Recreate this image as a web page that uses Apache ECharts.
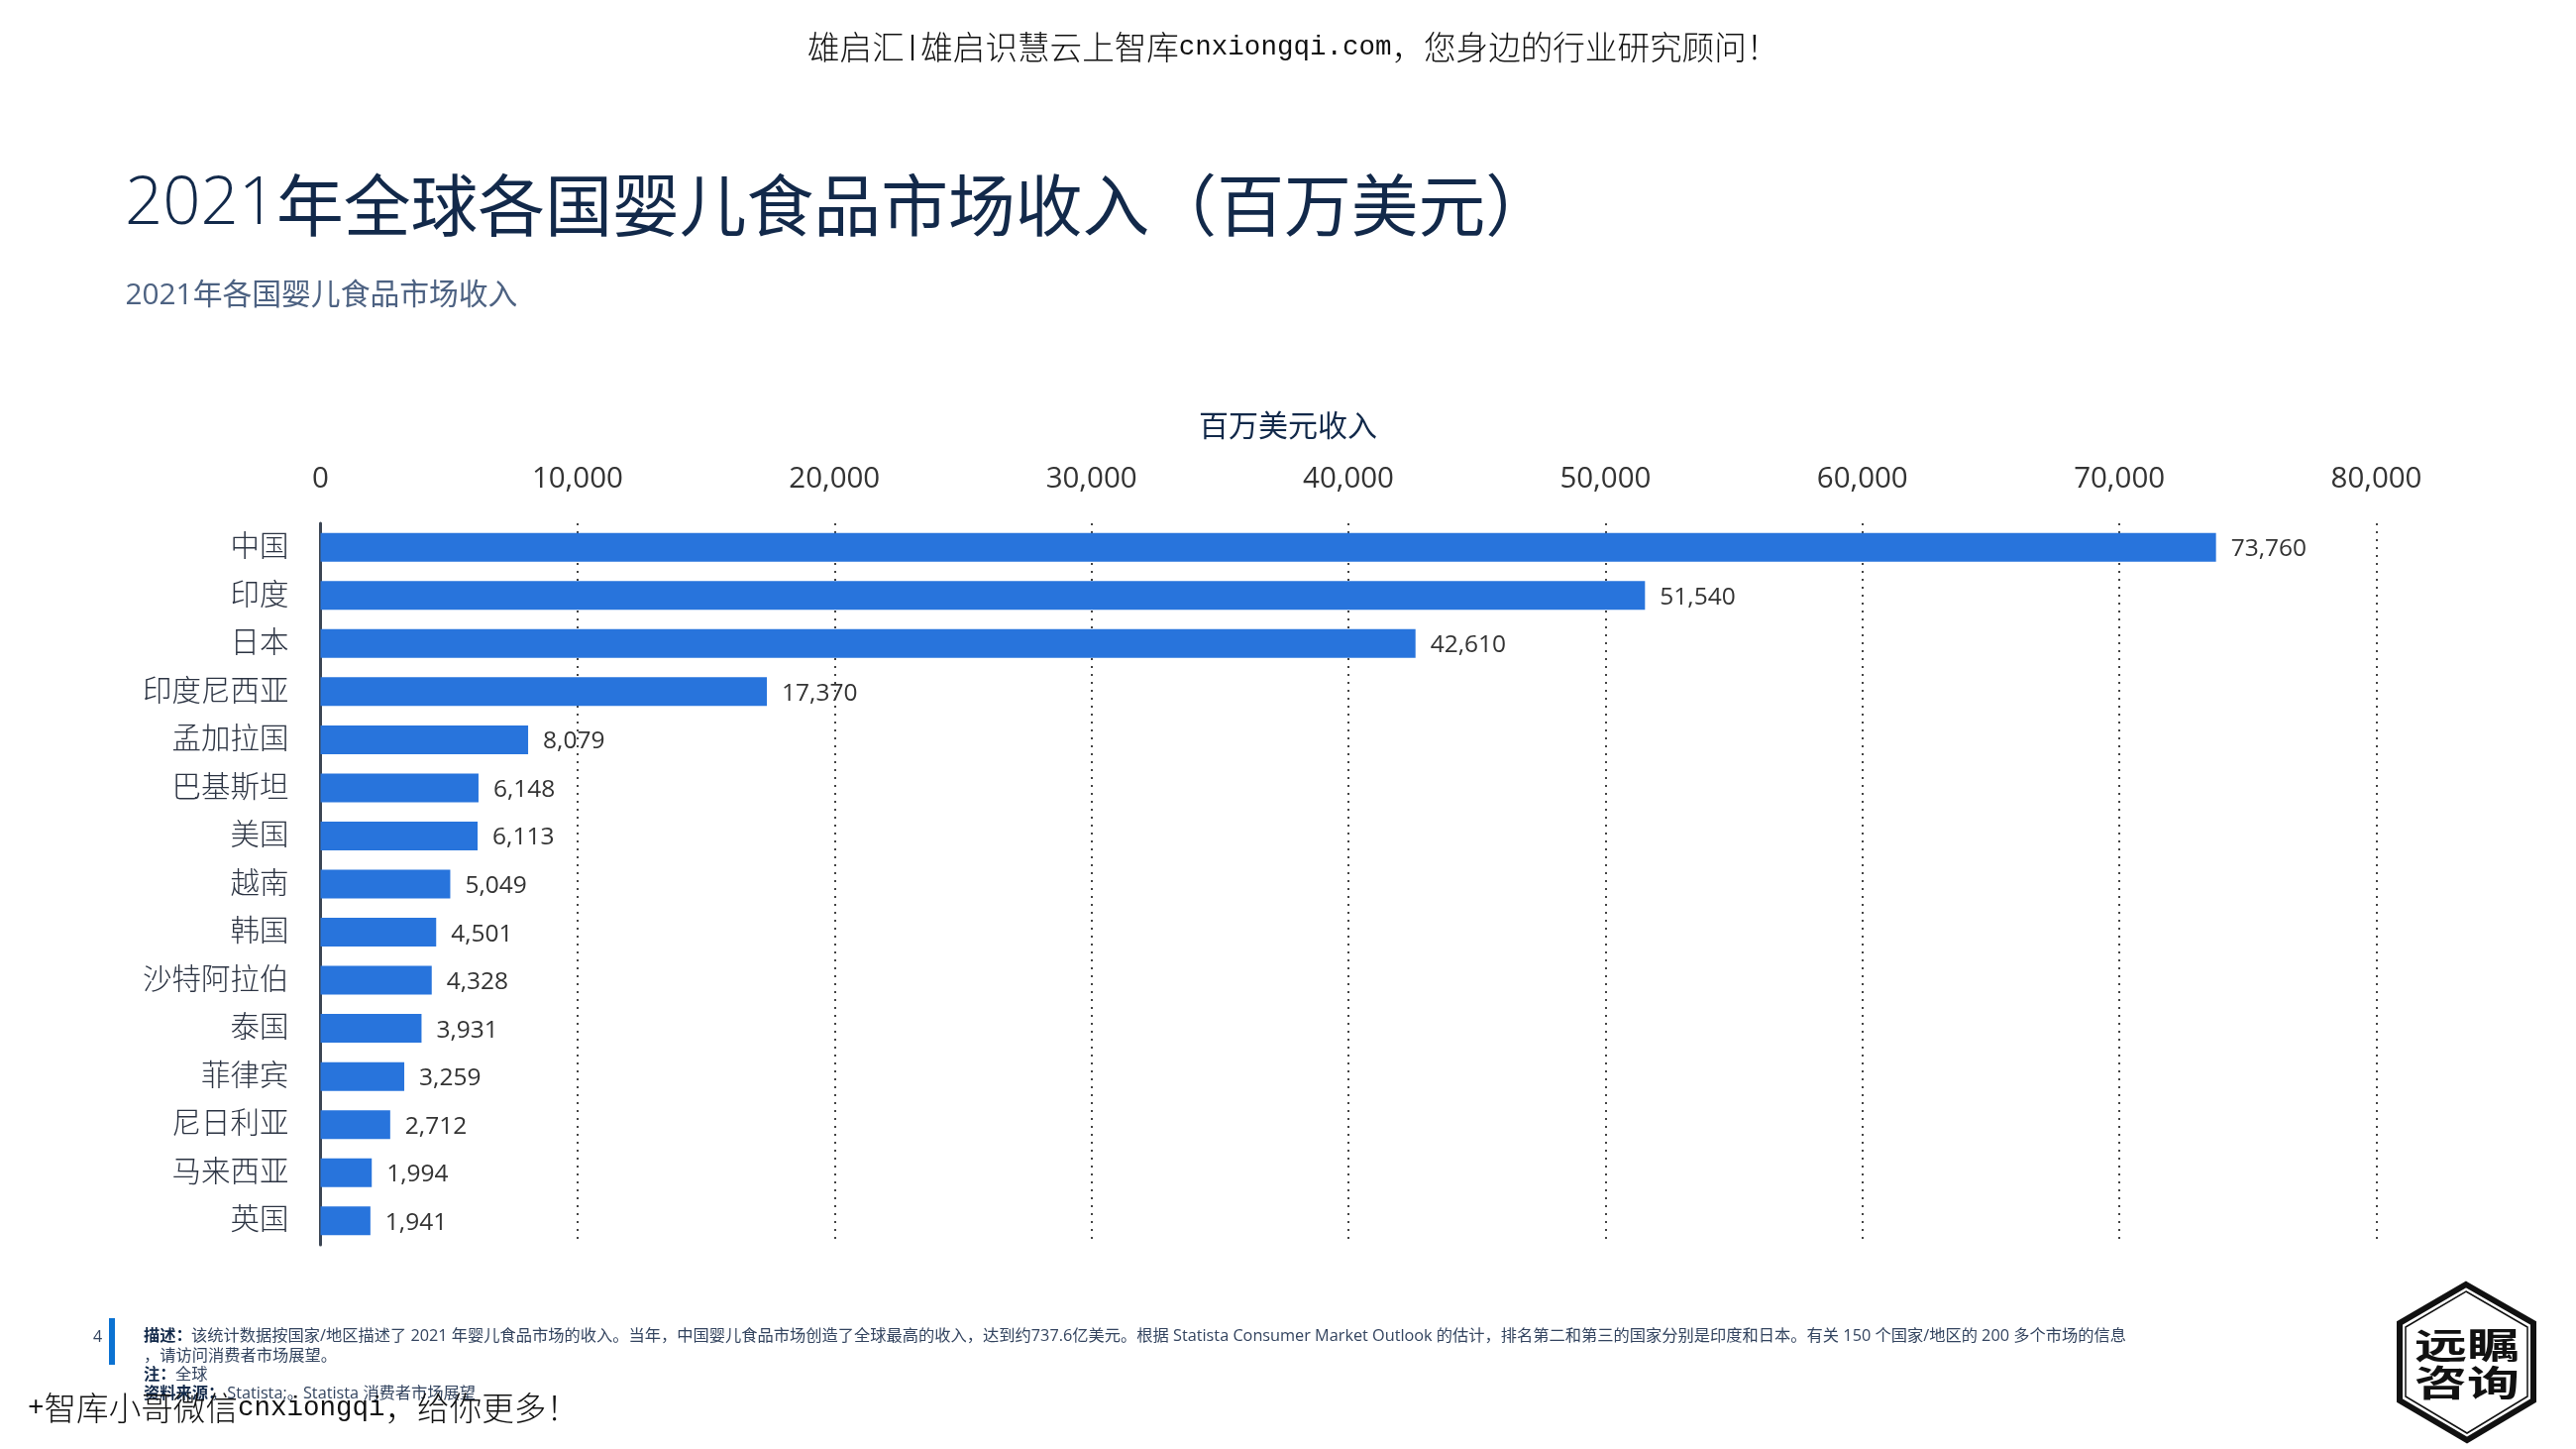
<!DOCTYPE html>
<html>
<head>
<meta charset="utf-8">
<script src="https://cdn.jsdelivr.net/npm/echarts@6/dist/echarts.min.js"></script>
<style>
html, body { margin: 0; padding: 0; background: #fff; }
#chart { width: 2600px; height: 1462px; }
</style>
</head>
<body>
<div id="chart"></div>
<script>
var countries = ['中国', '印度', '日本', '印度尼西亚', '孟加拉国', '巴基斯坦', '美国', '越南', '韩国', '沙特阿拉伯', '泰国', '菲律宾', '尼日利亚', '马来西亚', '英国'];
var revenue = [73760, 51540, 42610, 17370, 8079, 6148, 6113, 5049, 4501, 4328, 3931, 3259, 2712, 1994, 1941];
var axisName = '百万美元收入';
var axisMax = 80000;
var axisStep = 10000;

var sans = '"Open Sans", "Noto Sans CJK SC", sans-serif';
var cjk = '"Noto Sans CJK SC", sans-serif';
var navy = '#12294a';

// 水印：汉字与拉丁字符宽度 2:1
var markRich = {
    c: { fontFamily: cjk, fontWeight: 300, fontSize: 32.6, fill: '#111', color: '#111' },
    l: { fontFamily: '"Liberation Mono", monospace', fontSize: 27.5, fill: '#111', color: '#111' }
};

var chart = echarts.init(document.getElementById('chart'), null, { renderer: 'canvas' });

var option = {
    backgroundColor: '#fff',
    animation: false,
    title: [
        {
            text: '{a|2021}{b|年全球各国婴儿食品市场收入（百万美元）}',
            left: 121,
            top: 157,
            textStyle: {
                rich: {
                    a: { fontFamily: sans, fontWeight: 300, fontSize: 67, color: navy, lineHeight: 90 },
                    b: { fontFamily: cjk, fontWeight: 400, fontSize: 67.8, color: navy, lineHeight: 90 }
                }
            }
        },
        {
            text: '2021年各国婴儿食品市场收入',
            left: 121.5,
            top: 279,
            textStyle: { fontFamily: sans, fontWeight: 400, fontSize: 29.8, color: '#4d6282' }
        },
        {
            text: axisName,
            left: 'center',
            top: 409,
            textStyle: { fontFamily: cjk, fontWeight: 400, fontSize: 30, color: navy }
        }
    ],
    grid: { left: 323.5, top: 528, width: 2075, height: 728, containLabel: false },
    xAxis: {
        type: 'value',
        position: 'top',
        min: 0,
        max: axisMax,
        interval: axisStep,
        axisLine: { show: false },
        axisTick: { show: false },
        axisLabel: {
            margin: 30,
            fontFamily: sans,
            fontSize: 29.5,
            color: '#333',
            formatter: function (v) { return v.toLocaleString('en-US'); }
        },
        splitLine: {
            show: true,
            showMinLine: false,
            lineStyle: { color: '#444', width: 2, type: [2, 6] }
        }
    },
    yAxis: {
        type: 'category',
        inverse: true,
        data: countries,
        axisLine: { show: true, lineStyle: { color: '#3c4654', width: 3 } },
        axisTick: { show: false },
        axisLabel: {
            margin: 32,
            formatter: '{n|{value}}',
            rich: {
                n: { padding: [0, 0, 5, 0], fontFamily: cjk, fontWeight: 300, fontSize: 29.5, color: '#2b3342' }
            }
        }
    },
    series: [
        {
            type: 'bar',
            data: revenue,
            barWidth: 29,
            itemStyle: { color: '#2874dc' },
            label: {
                show: true,
                position: 'right',
                distance: 15,
                offset: [0, 2],
                fontFamily: sans,
                fontSize: 24.5,
                color: '#333',
                formatter: function (p) { return p.value.toLocaleString('en-US'); }
            }
        }
    ],
    graphic: [
        // 顶部水印
        { type: 'text', left: 815, top: 31, style: { text: '{c|雄启汇}{l||}{c|雄启识慧云上智库}{l|cnxiongqi.com}{c|，您身边的行业研究顾问！}', rich: markRich } },
        // 页脚
        { type: 'text', left: 94, top: 1341, style: { text: '4', font: '400 16px ' + sans, fill: '#33445f' } },
        { type: 'rect', shape: { x: 110, y: 1330, width: 6, height: 47 }, style: { fill: '#0b72d2' } },
        { type: 'text', left: 145, top: 1340, style: { text: '描述：', font: '700 16.25px ' + sans, fill: navy } },
        { type: 'text', left: 193, top: 1340, style: { text: '该统计数据按国家/地区描述了 2021 年婴儿食品市场的收入。当年，中国婴儿食品市场创造了全球最高的收入，达到约737.6亿美元。根据 Statista Consumer Market Outlook 的估计，排名第二和第三的国家分别是印度和日本。有关 150 个国家/地区的 200 多个市场的信息', font: '400 16.25px ' + sans, fill: '#33445f' } },
        { type: 'text', left: 145, top: 1360, style: { text: '，请访问消费者市场展望。', font: '400 16.25px ' + sans, fill: '#33445f' } },
        { type: 'text', left: 145, top: 1379, style: { text: '注：', font: '700 16.25px ' + sans, fill: navy } },
        { type: 'text', left: 177, top: 1379, style: { text: '全球', font: '400 16.25px ' + sans, fill: '#33445f' } },
        { type: 'text', left: 145, top: 1398, style: { text: '资料来源：', font: '700 16.25px ' + sans, fill: navy } },
        { type: 'text', left: 213, top: 1398, style: { text: '，Statista;。Statista 消费者市场展望', font: '400 16.25px ' + sans, fill: '#33445f' } },
        { type: 'text', left: 28, top: 1404, style: { text: '{l|+}{c|智库小哥微信}{l|cnxiongqi}{c|，给你更多！}', rich: markRich } },
        // 右下角徽标
        { type: 'polygon', shape: { points: [[2489, 1296], [2557, 1335], [2557, 1413], [2490, 1453], [2422, 1413], [2422, 1335]] }, style: { fill: '#fff', stroke: '#111', lineWidth: 6 } },
        { type: 'polygon', shape: { points: [[2489, 1303], [2551, 1339], [2551, 1409], [2490, 1446], [2428, 1409], [2428, 1339]] }, style: { fill: 'none', stroke: '#111', lineWidth: 1.5 } },
        { type: 'text', x: 2437, y: 1357, scaleY: 0.68, style: { text: '远瞩', font: '700 53px ' + cjk, fill: '#111', verticalAlign: 'middle' } },
        { type: 'text', x: 2437, y: 1395, scaleY: 0.68, style: { text: '咨询', font: '700 53px ' + cjk, fill: '#111', verticalAlign: 'middle' } }
    ]
};

chart.setOption(option);
</script>
</body>
</html>
